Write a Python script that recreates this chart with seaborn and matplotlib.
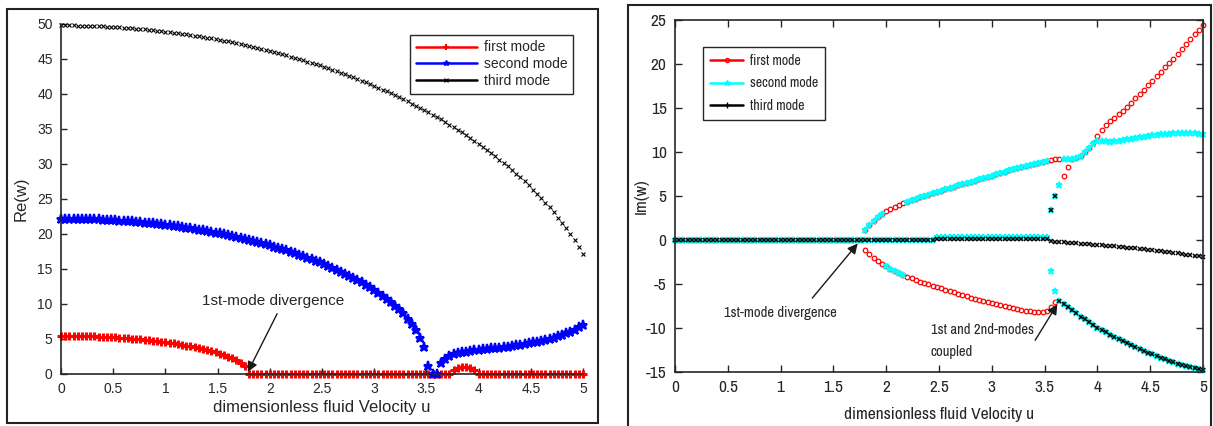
import numpy as np
import matplotlib
matplotlib.use("Agg")
import matplotlib.pyplot as plt
from matplotlib import font_manager
from matplotlib.lines import Line2D
from matplotlib.patches import Rectangle
from matplotlib.ticker import FuncFormatter, MultipleLocator
import seaborn as sns

# dimensionless fluid velocity, 126 samples from 0 to 5
u = np.linspace(0, 5, 126)

# ---- left panel: Re(w) ----
re_first = ([5.45, 5.45, 5.44, 5.44, 5.43, 5.42, 5.40, 5.38, 5.36, 5.34,
             5.31, 5.28, 5.25, 5.22, 5.18, 5.14, 5.09, 5.04, 4.99, 4.94,
             4.88, 4.82, 4.75, 4.68, 4.61, 4.53, 4.44, 4.36, 4.26, 4.16,
             4.06, 3.94, 3.82, 3.70, 3.56, 3.42, 3.26, 3.09, 2.91, 2.70,
             2.48, 2.23, 1.93, 1.58, 1.10]
            + [0.0] * 49
            + [0.5, 0.8, 0.95, 1.0, 0.85, 0.5]
            + [0.0] * 26)

re_second = [22.20, 22.20, 22.19, 22.19, 22.18, 22.17, 22.15, 22.13, 22.11, 22.09,
             22.06, 22.03, 22.00, 21.96, 21.92, 21.88, 21.84, 21.79, 21.74, 21.69,
             21.63, 21.57, 21.51, 21.45, 21.38, 21.31, 21.23, 21.16, 21.08, 20.99,
             20.90, 20.81, 20.72, 20.62, 20.52, 20.42, 20.31, 20.20, 20.08, 19.96,
             19.84, 19.71, 19.58, 19.44, 19.30, 19.16, 19.01, 18.86, 18.70, 18.54,
             18.38, 18.20, 18.03, 17.85, 17.66, 17.47, 17.27, 17.06, 16.85, 16.64,
             16.41, 16.18, 15.94, 15.70, 15.45, 15.18, 14.91, 14.63, 14.35, 14.05,
             13.74, 13.41, 13.08, 12.73, 12.36, 11.99, 11.59, 11.17, 10.73, 10.27,
             9.77, 9.25, 8.68, 7.9, 7.1, 6.3, 5.2, 3.9, 1.1, 0.0,
             0.0, 1.6, 2.2, 2.6, 2.85, 3.0, 3.1, 3.2, 3.3, 3.38,
             3.45, 3.52, 3.6, 3.66, 3.72, 3.78, 3.85, 3.92, 4.0, 4.08,
             4.17, 4.27, 4.38, 4.5, 4.62, 4.75, 4.88, 5.02, 5.18, 5.36,
             5.56, 5.8, 6.05, 6.35, 6.65, 7.0]

re_third = [49.80, 49.80, 49.79, 49.79, 49.78, 49.76, 49.75, 49.73, 49.71, 49.69,
            49.66, 49.63, 49.60, 49.56, 49.52, 49.48, 49.44, 49.39, 49.34, 49.29,
            49.24, 49.18, 49.12, 49.05, 48.98, 48.91, 48.84, 48.77, 48.69, 48.60,
            48.52, 48.43, 48.34, 48.25, 48.15, 48.05, 47.95, 47.84, 47.73, 47.62,
            47.50, 47.38, 47.26, 47.13, 47.00, 46.87, 46.73, 46.60, 46.45, 46.31,
            46.16, 46.00, 45.85, 45.69, 45.52, 45.35, 45.18, 45.01, 44.83, 44.64,
            44.46, 44.27, 44.07, 43.87, 43.67, 43.46, 43.25, 43.04, 42.82, 42.59,
            42.36, 42.13, 41.89, 41.65, 41.40, 41.15, 40.89, 40.63, 40.36, 40.09,
            39.81, 39.53, 39.24, 38.94, 38.64, 38.34, 38.02, 37.70, 37.38, 37.04,
            36.71, 36.36, 36.01, 35.64, 35.28, 34.90, 34.51, 34.12, 33.72, 33.31,
            32.89, 32.46, 32.02, 31.57, 31.10, 30.63, 30.15, 29.65, 29.14, 28.61,
            28.07, 27.51, 26.94, 26.35, 25.74, 25.11, 24.46, 23.79, 23.08, 22.35,
            21.59, 20.80, 19.96, 19.09, 18.16, 17.18]

# ---- right panel: Im(w), branch values ----
# upper branch, u = 1.80 ... 5.00
im_upper = [1.1, 1.7, 2.2, 2.6, 2.95, 3.25, 3.5, 3.75, 3.95, 4.15,
            4.35, 4.5, 4.7, 4.85, 5.0, 5.15, 5.3, 5.45, 5.6, 5.75,
            5.9, 6.05, 6.2, 6.33, 6.47, 6.6, 6.75, 6.9, 7.05, 7.18,
            7.3, 7.45, 7.6, 7.75, 7.9, 8.05, 8.2, 8.33, 8.45, 8.57,
            8.68, 8.8, 8.9, 9.0, 9.08, 9.15, 9.22, 9.25, 9.2, 9.2,
            9.3, 9.6, 10.0, 10.45, 10.9, 11.25, 11.3, 11.2, 11.15, 11.2,
            11.3, 11.35, 11.45, 11.5, 11.6, 11.7, 11.75, 11.85, 11.9, 11.95,
            12.0, 12.05, 12.1, 12.15, 12.2, 12.2, 12.2, 12.2, 12.15, 12.1,
            12.05]
# lower branch before coupling, u = 1.80 ... 3.60
im_lower = [-1.1, -1.6, -2.0, -2.4, -2.7, -3.0, -3.25, -3.5, -3.75, -3.95,
            -4.15, -4.35, -4.55, -4.75, -4.9, -5.05, -5.2, -5.35, -5.5, -5.65,
            -5.8, -5.95, -6.1, -6.25, -6.4, -6.55, -6.7, -6.82, -6.95, -7.07,
            -7.2, -7.32, -7.44, -7.55, -7.66, -7.77, -7.87, -7.96, -8.04, -8.1,
            -8.15, -8.18, -8.2, -8.1, -7.6, -7.0]
# lower branch after coupling, u = 3.64 ... 5.00
im_coupled = [-6.9, -7.3, -7.65, -8.0, -8.35, -8.7, -9.0, -9.35, -9.65, -10.0,
              -10.25, -10.5, -10.75, -11.0, -11.25, -11.5, -11.7, -11.95, -12.15, -12.4,
              -12.6, -12.8, -13.0, -13.2, -13.4, -13.55, -13.75, -13.9, -14.05, -14.2,
              -14.35, -14.45, -14.6, -14.7, -14.8]
# third mode drifting below zero, u = 3.56 ... 5.00
im_tail = [-0.15, -0.2, -0.25, -0.28, -0.32, -0.35, -0.38, -0.42, -0.45, -0.5,
           -0.53, -0.57, -0.62, -0.66, -0.7, -0.74, -0.78, -0.83, -0.87, -0.92,
           -0.96, -1.0, -1.05, -1.1, -1.15, -1.21, -1.27, -1.33, -1.39, -1.45,
           -1.52, -1.58, -1.65, -1.72, -1.79, -1.85, -1.92]
# first mode growing branch, u = 3.92 ... 5.00
im_growth = [10.45, 11.0, 11.8, 12.5, 13.1, 13.5, 13.9, 14.3, 14.7, 15.1,
             15.6, 16.1, 16.6, 17.1, 17.6, 18.1, 18.6, 19.1, 19.6, 20.1,
             20.6, 21.1, 21.7, 22.3, 22.8, 23.4, 23.9, 24.4]
# jump points near coupling, u = 3.56 ... 3.72
im_jump = [3.4, 5.0, 6.2, 7.3, 8.3]
im_jump_low = [-3.5, -5.8]
# near-zero line, u = 0 ... 3.52
im_zero_second = [0.0] * 62 + [0.35] * 27
im_zero_third = [0.0] * 62 + [0.1] * 27

# assemble the plotted series from the branches
n = len(u)
first_a = np.full(n, np.nan)
first_a[:45] = 0.0
first_a[45:91] = im_lower
first_a[92:94] = im_jump[3:]
first_a[94:98] = im_upper[49:53]
first_a[98:] = im_growth
first_b = np.full(n, np.nan)
first_b[45:92] = im_upper[:47]
tmp = first_a[50:55].copy()
first_a[50:55] = first_b[50:55]
first_b[50:55] = tmp

second_a = np.full(n, np.nan)
second_a[:89] = im_zero_second
second_a[89:91] = im_jump_low
second_a[91:] = im_coupled
second_b = np.full(n, np.nan)
second_b[45:89] = im_upper[:44]
second_b[89:92] = im_jump[:3]
second_b[92:] = im_upper[47:]
second_b[50:55] = im_lower[5:10]

third_a = np.full(n, np.nan)
third_a[:89] = im_zero_third
third_a[89:] = im_tail
third_b = np.full(n, np.nan)
third_b[89:91] = im_jump[:2]
third_b[91:] = im_coupled

labels = ["first mode", "second mode", "third mode"]

sns.set_theme(style="ticks")
plt.rcParams["font.family"] = ["Liberation Sans", "DejaVu Sans"]
plt.rcParams["axes.linewidth"] = 1.2
dark = "#262626"

# the right panel uses a narrow typeface; take a condensed one if installed
rank = {"extra-condensed": 0, "condensed": 1, "semi-condensed": 2}
cands = sorted((rank[f.stretch], f.name) for f in font_manager.fontManager.ttflist
               if f.stretch in rank and f.style == "normal"
               and f.weight in (400, "normal", "regular")
               and not any(s in f.name for s in ("Mono", "CJK", "Serif")))
if cands:
    nstretch = [k for k, v in rank.items() if v == cands[0][0]][0]
    nfam = [cands[0][1], "Liberation Sans", "DejaVu Sans"]
    nscale = 1.0
else:
    nstretch = "normal"
    nfam = ["Liberation Sans", "DejaVu Sans"]
    nscale = 0.88


def nfont(size):
    return font_manager.FontProperties(family=nfam, stretch=nstretch, size=size * nscale)


def dots(ax, y, color, marker, ms, mew, mfc=None):
    sns.lineplot(x=u, y=np.asarray(y, dtype=float), ax=ax, color=color,
                 marker=marker, markersize=ms, markeredgewidth=mew,
                 markeredgecolor=color,
                 markerfacecolor=color if mfc is None else mfc,
                 linestyle="none", estimator=None, errorbar=None,
                 sort=False, clip_on=False)


fig = plt.figure(figsize=(12.13, 4.26), dpi=100)
ax1 = fig.add_axes([0.0503, 0.1221, 0.4303, 0.8216])
ax2 = fig.add_axes([0.5565, 0.1268, 0.4353, 0.8263])

# outer frames around each panel
fig.add_artist(Rectangle((0.0058, 0.007), 0.4872, 0.9718, transform=fig.transFigure,
                         fill=False, edgecolor="#222222", lw=1.5))
fig.add_artist(Rectangle((0.5177, -0.02), 0.4806, 1.008, transform=fig.transFigure,
                         fill=False, edgecolor="#222222", lw=1.5))

fmt = FuncFormatter(lambda v, p: f"{v:g}")

# ---- left ----
dots(ax1, re_first, "red", "+", 6, 2.2)
dots(ax1, re_second, "blue", "*", 6.5, 1.5)
dots(ax1, re_third, "black", "x", 3, 0.8)
ax1.set_xlim(0, 5)
ax1.set_ylim(0, 50)
ax1.xaxis.set_major_locator(MultipleLocator(0.5))
ax1.yaxis.set_major_locator(MultipleLocator(5))
ax1.xaxis.set_major_formatter(fmt)
ax1.yaxis.set_major_formatter(fmt)
ax1.tick_params(direction="in", length=4, width=1, colors=dark, labelsize=10,
                pad=6, top=False, right=False)
sns.despine(ax=ax1)
ax1.set_xlabel("dimensionless fluid Velocity u", fontsize=12, color=dark)
ax1.set_ylabel("Re(w)", fontsize=12, color=dark)
ax1.xaxis.set_label_coords(0.5, -0.075)
ax1.yaxis.set_label_coords(-0.062, 0.5)
ax1.text(2.03, 10.4, "1st-mode divergence", ha="center", va="center", fontsize=11)
ax1.annotate("", xy=(1.79, 0.3), xytext=(2.07, 8.6),
             arrowprops=dict(arrowstyle="-|>", color="k", lw=1, mutation_scale=15,
                             shrinkA=0, shrinkB=0))
h1 = [Line2D([], [], color="red", lw=1.8, marker="+", ms=5, mew=1.5),
      Line2D([], [], color="blue", lw=1.8, marker="*", ms=4, mew=1),
      Line2D([], [], color="black", lw=1.8, marker="x", ms=3, mew=0.8)]
leg1 = ax1.legend(h1, labels, loc="upper right", bbox_to_anchor=(0.981, 0.969),
                  borderaxespad=0, fancybox=False, framealpha=1, edgecolor=dark,
                  fontsize=10, handlelength=4.4, borderpad=0.4, labelspacing=0.2,
                  handletextpad=0.5)
leg1.get_frame().set_linewidth(1.0)

# ---- right ----
dots(ax2, first_a, "red", "o", 3.3, 0.9, "none")
dots(ax2, first_b, "red", "o", 3.3, 0.9, "none")
dots(ax2, second_a, "cyan", "*", 5, 1.2)
dots(ax2, second_b, "cyan", "*", 5, 1.2)
dots(ax2, third_a, "black", "x", 3.3, 1.1)
dots(ax2, third_b, "black", "x", 3.3, 1.1)
ax2.set_xlim(0, 5)
ax2.set_ylim(-15, 25)
ax2.xaxis.set_major_locator(MultipleLocator(0.5))
ax2.yaxis.set_major_locator(MultipleLocator(5))
ax2.xaxis.set_major_formatter(fmt)
ax2.yaxis.set_major_formatter(fmt)
ax2.tick_params(direction="in", length=5, width=1, colors=dark,
                pad=6, top=True, right=True)
for lab in ax2.get_xticklabels() + ax2.get_yticklabels():
    lab.set_fontproperties(nfont(12.5))
ax2.set_xlabel("dimensionless fluid Velocity u", color=dark, fontproperties=nfont(12.5))
ax2.set_ylabel("Im(w)", color=dark, fontproperties=nfont(12.5))
ax2.xaxis.set_label_coords(0.5, -0.1)
ax2.yaxis.set_label_coords(-0.05, 0.5)
ax2.text(0.46, -8.3, "1st-mode divergence", ha="left", va="center",
         fontproperties=nfont(10.5))
ax2.annotate("", xy=(1.73, -0.4), xytext=(1.3, -6.6),
             arrowprops=dict(arrowstyle="-|>", color="k", lw=1, mutation_scale=15,
                             shrinkA=0, shrinkB=0))
ax2.text(2.42, -11.45, "1st and 2nd-modes\ncoupled", ha="left", va="center",
         fontproperties=nfont(10.5), linespacing=1.75)
ax2.annotate("", xy=(3.62, -7.3), xytext=(3.41, -11.4),
             arrowprops=dict(arrowstyle="-|>", color="k", lw=1, mutation_scale=15,
                             shrinkA=0, shrinkB=0))
h2 = [Line2D([], [], color="red", lw=1.8, marker="o", ms=3, mew=0.9, mfc="none"),
      Line2D([], [], color="cyan", lw=1.8, marker="*", ms=4, mew=1),
      Line2D([], [], color="black", lw=1.8, marker="+", ms=4, mew=1)]
leg2 = ax2.legend(h2, labels, loc="upper left", bbox_to_anchor=(0.053, 0.923),
                  borderaxespad=0, fancybox=False, framealpha=1, edgecolor=dark,
                  prop=nfont(10), handlelength=2.4,
                  borderpad=0.5, labelspacing=0.6, handletextpad=0.5)
leg2.get_frame().set_linewidth(1.0)

fig.savefig("out.png", dpi=100)
